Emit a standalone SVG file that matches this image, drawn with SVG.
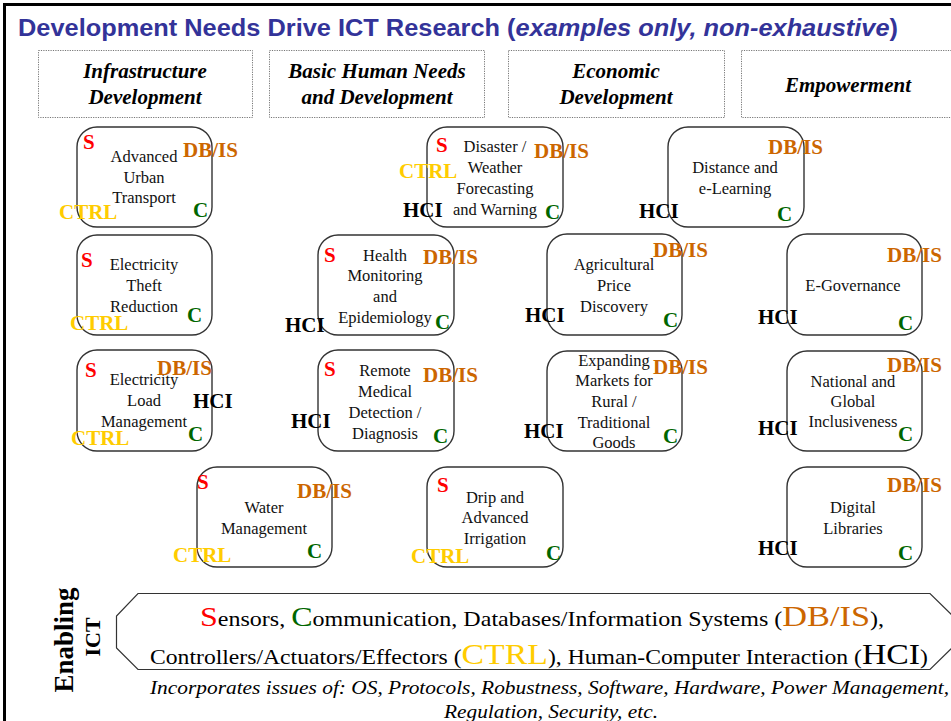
<svg xmlns="http://www.w3.org/2000/svg" width="951" height="721" viewBox="0 0 951 721">
<style>
.nb{fill:none;stroke:#333;stroke-width:1.4}
.cat{fill:#fff;stroke:#777;stroke-width:1;stroke-dasharray:1.2,1.2}
.sf{font-family:"Liberation Serif","Times New Roman",Times,"DejaVu Serif",serif}
.ct{font-family:"Liberation Serif","Times New Roman",Times,"DejaVu Serif",serif;font-weight:bold;font-style:italic;font-size:21px;fill:#000;text-anchor:middle}
.t{font-family:"Liberation Serif","Times New Roman",Times,"DejaVu Serif",serif;font-size:16.5px;fill:#111;text-anchor:middle}
.l{font-family:"Liberation Serif","Times New Roman",Times,"DejaVu Serif",serif;font-weight:bold;font-size:21px}
.S{fill:#ff0000}
.D{fill:#cc6600}
.C{fill:#006600}
.R{fill:#ffcc00}
.H{fill:#000}
.b{font-family:"Liberation Serif","Times New Roman",Times,"DejaVu Serif",serif;font-size:21px;fill:#000}
</style>
<rect width="951" height="721" fill="#fff"/>
<path d="M4.5,721 V4.5 H951" fill="none" stroke="#000" stroke-width="3"/>
<text x="18" y="36" font-family="Liberation Sans, Arial, sans-serif" font-weight="bold" font-size="23" fill="#333399" textLength="880" lengthAdjust="spacingAndGlyphs">Development Needs Drive ICT Research (<tspan font-style="italic">examples only, non-exhaustive</tspan>)</text>

<g id="cat-infra"><rect class="cat" x="38.5" y="50.5" width="214" height="67"/><text class="ct" x="145" y="78">Infrastructure</text><text class="ct" x="145" y="104">Development</text></g>
<g id="cat-basic"><rect class="cat" x="269.5" y="50.5" width="215" height="67"/><text class="ct" x="377" y="78">Basic Human Needs</text><text class="ct" x="377" y="104">and Development</text></g>
<g id="cat-econ"><rect class="cat" x="508.5" y="50.5" width="216" height="67"/><text class="ct" x="616" y="78">Economic</text><text class="ct" x="616" y="104">Development</text></g>
<g id="cat-emp"><rect class="cat" x="741.5" y="50.5" width="216" height="67"/><text class="ct" x="848" y="92">Empowerment</text></g>

<g id="n-transport"><rect class="nb" x="77" y="127" width="135" height="100" rx="20"/>
<text class="t" x="144" y="162">Advanced</text><text class="t" x="144" y="183">Urban</text><text class="t" x="144" y="203">Transport</text>
<text class="l S" x="83" y="149">S</text><text class="l D" x="183" y="157">DB/IS</text><text class="l R" x="59" y="219">CTRL</text><text class="l C" x="193" y="217">C</text></g>

<g id="n-disaster"><rect class="nb" x="427" y="127" width="136" height="100" rx="20"/>
<text class="t" x="495" y="152">Disaster /</text><text class="t" x="495" y="173">Weather</text><text class="t" x="495" y="194">Forecasting</text><text class="t" x="495" y="215">and Warning</text>
<text class="l S" x="436" y="152">S</text><text class="l D" x="534" y="158">DB/IS</text><text class="l R" x="399" y="178">CTRL</text><text class="l H" x="403" y="217">HCI</text><text class="l C" x="545" y="219">C</text></g>

<g id="n-elearning"><rect class="nb" x="668" y="127" width="136" height="100" rx="20"/>
<text class="t" x="735" y="173">Distance and</text><text class="t" x="735" y="194">e-Learning</text>
<text class="l D" x="768" y="154">DB/IS</text><text class="l H" x="639" y="218">HCI</text><text class="l C" x="777" y="221">C</text></g>

<g id="n-theft"><rect class="nb" x="77" y="235" width="135" height="100" rx="20"/>
<text class="t" x="144" y="270">Electricity</text><text class="t" x="144" y="291">Theft</text><text class="t" x="144" y="312">Reduction</text>
<text class="l S" x="81" y="267">S</text><text class="l R" x="70" y="330">CTRL</text><text class="l C" x="187" y="322">C</text></g>

<g id="n-health"><rect class="nb" x="318" y="235" width="136" height="100" rx="20"/>
<text class="t" x="385" y="261">Health</text><text class="t" x="385" y="281">Monitoring</text><text class="t" x="385" y="302">and</text><text class="t" x="385" y="323">Epidemiology</text>
<text class="l S" x="324" y="262">S</text><text class="l D" x="423" y="264">DB/IS</text><text class="l H" x="285" y="332">HCI</text><text class="l C" x="435" y="329">C</text></g>

<g id="n-agri"><rect class="nb" x="547" y="234" width="135" height="101" rx="20"/>
<text class="t" x="614" y="270">Agricultural</text><text class="t" x="614" y="291">Price</text><text class="t" x="614" y="312">Discovery</text>
<text class="l D" x="653" y="257">DB/IS</text><text class="l H" x="525" y="322">HCI</text><text class="l C" x="663" y="327">C</text></g>

<g id="n-egov"><rect class="nb" x="787" y="234" width="135" height="101" rx="20"/>
<text class="t" x="853" y="291">E-Governance</text>
<text class="l D" x="887" y="262">DB/IS</text><text class="l H" x="758" y="324">HCI</text><text class="l C" x="898" y="330">C</text></g>

<g id="n-load"><rect class="nb" x="77" y="350" width="135" height="101" rx="20"/>
<text class="t" x="144" y="385">Electricity</text><text class="t" x="144" y="406">Load</text><text class="t" x="144" y="427">Management</text>
<text class="l S" x="85" y="377">S</text><text class="l D" x="157" y="375">DB/IS</text><text class="l H" x="193" y="408">HCI</text><text class="l C" x="188" y="441">C</text><text class="l R" x="71" y="445">CTRL</text></g>

<g id="n-remote"><rect class="nb" x="318" y="350" width="136" height="101" rx="20"/>
<text class="t" x="385" y="376">Remote</text><text class="t" x="385" y="397">Medical</text><text class="t" x="385" y="418">Detection /</text><text class="t" x="385" y="439">Diagnosis</text>
<text class="l S" x="324" y="376">S</text><text class="l D" x="423" y="382">DB/IS</text><text class="l H" x="291" y="428">HCI</text><text class="l C" x="433" y="443">C</text></g>

<g id="n-markets"><rect class="nb" x="547" y="351" width="135" height="100" rx="20"/>
<text class="t" x="614" y="366">Expanding</text><text class="t" x="614" y="386">Markets for</text><text class="t" x="614" y="407">Rural /</text><text class="t" x="614" y="428">Traditional</text><text class="t" x="614" y="448">Goods</text>
<text class="l D" x="653" y="374">DB/IS</text><text class="l H" x="524" y="438">HCI</text><text class="l C" x="663" y="443">C</text></g>

<g id="n-inclusive"><rect class="nb" x="787" y="351" width="135" height="100" rx="20"/>
<text class="t" x="853" y="387">National and</text><text class="t" x="853" y="407">Global</text><text class="t" x="853" y="427">Inclusiveness</text>
<text class="l D" x="887" y="372">DB/IS</text><text class="l H" x="758" y="435">HCI</text><text class="l C" x="898" y="441">C</text></g>

<g id="n-water"><rect class="nb" x="197" y="467" width="135" height="100" rx="20"/>
<text class="t" x="264" y="513">Water</text><text class="t" x="264" y="534">Management</text>
<text class="l S" x="197" y="489">S</text><text class="l D" x="297" y="498">DB/IS</text><text class="l R" x="173" y="562">CTRL</text><text class="l C" x="307" y="558">C</text></g>

<g id="n-drip"><rect class="nb" x="427" y="467" width="136" height="100" rx="20"/>
<text class="t" x="495" y="503">Drip and</text><text class="t" x="495" y="523">Advanced</text><text class="t" x="495" y="544">Irrigation</text>
<text class="l S" x="437" y="492">S</text><text class="l R" x="411" y="563">CTRL</text><text class="l C" x="546" y="560">C</text></g>

<g id="n-library"><rect class="nb" x="787" y="467" width="135" height="100" rx="20"/>
<text class="t" x="853" y="513">Digital</text><text class="t" x="853" y="534">Libraries</text>
<text class="l D" x="887" y="492">DB/IS</text><text class="l H" x="758" y="555">HCI</text><text class="l C" x="898" y="560">C</text></g>

<g id="enabling">
<text class="sf" transform="translate(73,640) rotate(-90)" text-anchor="middle" font-weight="bold" font-size="27">Enabling</text>
<text class="sf" transform="translate(100,637) rotate(-90)" text-anchor="middle" font-weight="bold" font-size="22">ICT</text>
<path d="M138,593.5 H930 L954,617 V646 L930,669.5 H138 L116.5,648 V616 Z" fill="#fff" stroke="#333" stroke-width="1.2"/>
<text class="b" x="200" y="626" textLength="684" lengthAdjust="spacingAndGlyphs"><tspan class="S" font-size="28">S</tspan>ensors, <tspan class="C" font-size="28">C</tspan>ommunication, Databases/Information Systems (<tspan class="D" font-size="30">DB/IS</tspan>),</text>
<text class="b" x="150" y="664" textLength="778" lengthAdjust="spacingAndGlyphs">Controllers/Actuators/Effectors (<tspan class="R" font-size="30">CTRL</tspan>), Human-Computer Interaction (<tspan font-size="30">HCI</tspan>)</text>
<text class="sf" x="150" y="694" font-style="italic" font-size="18" textLength="799" lengthAdjust="spacingAndGlyphs">Incorporates issues of: OS, Protocols, Robustness, Software, Hardware, Power Management,</text>
<text class="sf" x="444" y="718" font-style="italic" font-size="18" textLength="214" lengthAdjust="spacingAndGlyphs">Regulation, Security, etc.</text>
</g>
</svg>
